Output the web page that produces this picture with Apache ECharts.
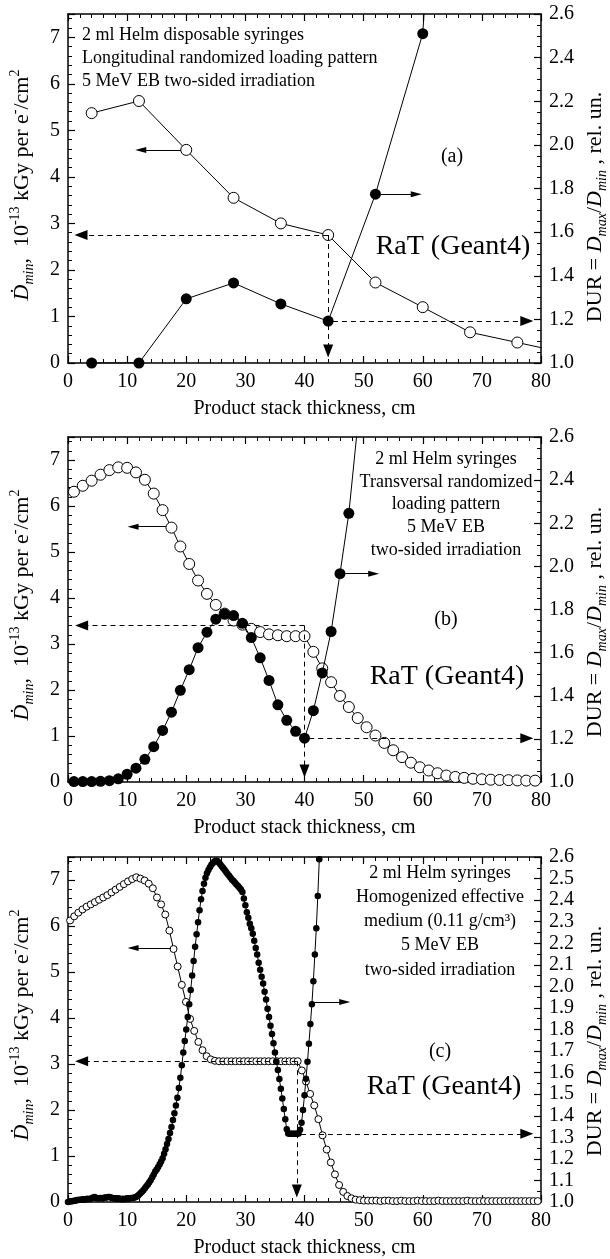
<!DOCTYPE html>
<html><head><meta charset="utf-8">
<script src="https://cdn.jsdelivr.net/npm/echarts@6/dist/echarts.min.js"></script>
<style>html,body{margin:0;padding:0;background:#fff}#c{width:610px;height:1259px}</style>
</head><body><div id="c"></div>
<script>
// ---------- data ----------
// Panel (a): longitudinal randomized loading
const aX     = [4, 12, 20, 28, 36, 44, 52, 60, 68, 76, 84];
const aDmin  = [5.37, 5.63, 4.58, 3.55, 3.00, 2.75, 1.73, 1.20, 0.66, 0.44, 0.22];
const aDurX  = [4, 12, 20, 28, 36, 44, 52, 60, 68];
const aDur   = [1.000, 1.000, 1.294, 1.367, 1.271, 1.192, 1.774, 2.510, 6.000];

// Panel (b): transversal randomized loading
const bX = [1.0, 2.5, 4.0, 5.5, 7.0, 8.5, 10.0, 11.5, 13.0, 14.5, 16.0, 17.5, 19.0, 20.5, 22.0, 23.5, 25.0, 26.5,
  28.0, 29.5, 31.0, 32.5, 34.0, 35.5, 37.0, 38.5, 40.0, 41.5, 43.0, 44.5, 46.0, 47.5, 49.0, 50.5, 52.0, 53.5, 55.0,
  56.5, 58.0, 59.5, 61.0, 62.5, 64.0, 65.5, 67.0, 68.5, 70.0, 71.5, 73.0, 74.5, 76.0, 77.5, 79.0];
const bDmin = [6.31, 6.44, 6.55, 6.68, 6.78, 6.84, 6.83, 6.73, 6.57, 6.27, 5.91, 5.53, 5.12, 4.74, 4.38, 4.09, 3.85, 3.66,
  3.51, 3.42, 3.33, 3.26, 3.21, 3.19, 3.17, 3.17, 3.17, 2.83, 2.47, 2.17, 1.87, 1.63, 1.39, 1.19, 1.01, 0.85, 0.69,
  0.54, 0.42, 0.32, 0.25, 0.19, 0.14, 0.11, 0.09, 0.07, 0.06, 0.05, 0.045, 0.04, 0.035, 0.03, 0.03];
const bDurX = [1.0, 2.5, 4.0, 5.5, 7.0, 8.5, 10.0, 11.5, 13.0, 14.5, 16.0, 17.5, 19.0, 20.5, 22.0, 23.5, 25.0, 26.5,
  28.0, 29.5, 31.0, 32.5, 34.0, 35.5, 37.0, 38.5, 40.0, 41.5, 43.0, 44.5, 46.0, 47.5, 49.0, 50.5];
const bDur = [1.002, 1.002, 1.002, 1.003, 1.006, 1.015, 1.036, 1.064, 1.105, 1.164, 1.239, 1.324, 1.425, 1.521, 1.623,
  1.695, 1.755, 1.779, 1.772, 1.736, 1.670, 1.576, 1.471, 1.358, 1.286, 1.235, 1.203, 1.331, 1.506, 1.698, 1.966,
  2.246, 2.655, 3.050];

// Panel (c): homogenized effective medium
const cX = [0.35, 1.05, 1.75, 2.45, 3.15, 3.85, 4.55, 5.25, 5.95, 6.65, 7.35, 8.05, 8.75, 9.45, 10.15, 10.85, 11.55,
  12.25, 12.95, 13.65, 14.35, 15.05, 15.75, 16.45, 17.15, 17.85, 18.55, 19.25, 19.95, 20.65, 21.35, 22.05, 22.75,
  23.45, 24.15, 24.85, 25.55, 26.25, 26.95, 27.65, 28.35, 29.05, 29.75, 30.45, 31.15, 31.85, 32.55, 33.25, 33.95,
  34.65, 35.35, 36.05, 36.75, 37.45, 38.15, 38.85, 39.55, 40.25, 40.95, 41.65, 42.35, 43.05, 43.75, 44.45, 45.15,
  45.85, 46.55, 47.25, 47.95, 48.65, 49.35, 50.05, 50.75, 51.45, 52.15, 52.85, 53.55, 54.25, 54.95, 55.65, 56.35,
  57.05, 57.75, 58.45, 59.15, 59.85, 60.55, 61.25, 61.95, 62.65, 63.35, 64.05, 64.75, 65.45, 66.15, 66.85, 67.55,
  68.25, 68.95, 69.65, 70.35, 71.05, 71.75, 72.45, 73.15, 73.85, 74.55, 75.25, 75.95, 76.65, 77.35, 78.05, 78.75, 79.45];
const cDmin = [6.12, 6.21, 6.29, 6.36, 6.42, 6.47, 6.52, 6.57, 6.62, 6.67, 6.73, 6.79, 6.85, 6.91, 6.97, 7.02, 7.06,
  7.03, 6.99, 6.92, 6.82, 6.62, 6.47, 6.25, 5.90, 5.50, 5.12, 4.72, 4.35, 3.98, 3.72, 3.48, 3.30, 3.17, 3.10, 3.07,
  3.06, 3.06, 3.06, 3.06, 3.06, 3.06, 3.06, 3.06, 3.06, 3.06, 3.06, 3.06, 3.06, 3.06, 3.06, 3.06, 3.06, 3.06, 3.06, 3.06,
  2.86, 2.62, 2.35, 2.10, 1.80, 1.45, 1.14, 0.86, 0.60, 0.37, 0.22, 0.13, 0.08, 0.05, 0.04, 0.03,
  0.03, 0.03, 0.03, 0.02, 0.03, 0.03, 0.02, 0.02, 0.03, 0.02, 0.02, 0.02, 0.03, 0.02, 0.02, 0.02, 0.02, 0.03, 0.02, 0.02,
  0.02, 0.02, 0.02, 0.02, 0.03, 0.02, 0.02, 0.02, 0.02, 0.02, 0.02, 0.02, 0.02, 0.02, 0.02, 0.02, 0.02, 0.02, 0.02, 0.02,
  0.02, 0.02];
const cDurX = [
  0.00, 0.25, 0.50, 0.75, 1.00, 1.25, 1.50, 1.75, 2.00, 2.25, 2.50, 2.75, 3.00, 3.25, 3.50, 3.75,
  4.00, 4.25, 4.50, 4.75, 5.00, 5.25, 5.50, 5.75, 6.00, 6.25, 6.50, 6.75, 7.00, 7.25, 7.50, 7.75,
  8.00, 8.25, 8.50, 8.75, 9.00, 9.25, 9.50, 9.75, 10.00, 10.25, 10.50, 10.75, 11.00, 11.25, 11.50, 11.75,
  12.00, 12.25, 12.50, 12.75, 13.00, 13.25, 13.50, 13.75, 14.00, 14.25, 14.50, 14.75, 15.00, 15.25, 15.50, 15.75,
  16.00, 16.25, 16.50, 16.75, 17.00, 17.25, 17.50, 17.75, 18.00, 18.25, 18.50, 18.75, 19.00, 19.25, 19.50, 19.75,
  20.00, 20.25, 20.50, 20.75, 21.00, 21.25, 21.50, 21.75, 22.00, 22.25, 22.50, 22.75, 23.00, 23.25, 23.50, 23.75,
  24.00, 24.25, 24.50, 24.75, 25.00, 25.25, 25.50, 25.75, 26.00, 26.25, 26.50, 26.75, 27.00, 27.25, 27.50, 27.75,
  28.00, 28.25, 28.50, 28.75, 29.00, 29.25, 29.50, 29.75, 30.00, 30.25, 30.50, 30.75, 31.00, 31.25, 31.50, 31.75,
  32.00, 32.25, 32.50, 32.75, 33.00, 33.25, 33.50, 33.75, 34.00, 34.25, 34.50, 34.75, 35.00, 35.25, 35.50, 35.75,
  36.00, 36.25, 36.50, 36.75, 37.00, 37.25, 37.50, 37.75, 38.00, 38.25, 38.50, 38.75, 39.00, 39.25, 39.50, 39.75,
  40.00, 40.25, 40.50, 40.75, 41.00, 41.25, 41.50, 41.75, 42.00, 42.25, 42.50, 42.75];
const cDur = [
  1.000, 1.002, 1.004, 1.004, 1.006, 1.006, 1.009, 1.009, 1.011, 1.011, 1.013, 1.011, 1.013, 1.015, 1.013, 1.015,
  1.017, 1.021, 1.023, 1.019, 1.017, 1.017, 1.019, 1.017, 1.019, 1.021, 1.021, 1.023, 1.023, 1.021, 1.019, 1.017,
  1.017, 1.015, 1.017, 1.015, 1.013, 1.015, 1.013, 1.015, 1.017, 1.015, 1.017, 1.019, 1.019, 1.021, 1.023, 1.028,
  1.034, 1.041, 1.047, 1.055, 1.064, 1.073, 1.081, 1.092, 1.102, 1.115, 1.128, 1.141, 1.151, 1.162, 1.175, 1.188,
  1.203, 1.224, 1.245, 1.269, 1.292, 1.320, 1.348, 1.380, 1.412, 1.448, 1.484, 1.529, 1.576, 1.634, 1.693, 1.747,
  1.800, 1.858, 1.917, 1.983, 2.050, 2.118, 2.184, 2.242, 2.297, 2.353, 2.404, 2.442, 2.476, 2.504, 2.525, 2.540,
  2.553, 2.564, 2.572, 2.579, 2.583, 2.581, 2.574, 2.566, 2.557, 2.549, 2.540, 2.530, 2.521, 2.513, 2.504, 2.495,
  2.489, 2.481, 2.472, 2.466, 2.457, 2.449, 2.438, 2.408, 2.376, 2.344, 2.318, 2.291, 2.269, 2.244, 2.212, 2.178,
  2.148, 2.109, 2.077, 2.045, 2.013, 1.975, 1.939, 1.896, 1.858, 1.817, 1.779, 1.736, 1.693, 1.651, 1.612, 1.570,
  1.525, 1.480, 1.431, 1.384, 1.337, 1.318, 1.316, 1.316, 1.316, 1.316, 1.316, 1.316, 1.318, 1.335, 1.367, 1.427,
  1.495, 1.572, 1.651, 1.734, 1.826, 1.917, 2.024, 2.148, 2.269, 2.419, 2.589, 2.771];

// Guide arrows in data coordinates: [from, to, kind]
const aGuideL = [[[44, 2.75], [2.2, 2.75], 'dash'], [[44, 2.75], [44, 0.26], 'dash'], [[19.1, 4.58], [12.3, 4.58], 'solid']];
const aGuideR = [[[44.8, 1.192], [77.6, 1.192], 'dash'], [[52.9, 1.774], [58.9, 1.774], 'solid']];
const bGuideL = [[[40, 3.4], [2.3, 3.4], 'dash'], [[40, 3.4], [40, 0.24], 'dash'], [[16.6, 5.55], [11.0, 5.55], 'solid']];
const bGuideR = [[[40.8, 1.203], [77.6, 1.203], 'dash'], [[46.9, 1.966], [51.7, 1.966], 'solid']];
const cGuideL = [[[38.7, 3.06], [2.3, 3.06], 'dash'], [[38.7, 3.06], [38.7, 0.24], 'dash'], [[17.4, 5.52], [11.0, 5.52], 'solid']];
const cGuideR = [[[39.4, 1.316], [77.6, 1.316], 'dash'], [[41.6, 1.927], [46.8, 1.927], 'solid']];

// Texts
const aNotes = ['2 ml Helm disposable syringes', 'Longitudinal randomized loading pattern', '5 MeV EB two-sided irradiation'];
const bNotes = ['2 ml Helm syringes', 'Transversal randomized', 'loading pattern', '5 MeV EB', 'two-sided irradiation'];
const cNotes = ['2 ml Helm syringes', 'Homogenized effective', 'medium (0.11 g/cm\u00B3)', '5 MeV EB', 'two-sided irradiation'];
const xTitle = 'Product stack thickness, cm';

// ---------- chart ----------
const FONT = 'Liberation Serif';
const BLK = '#000';
const grids = [
  {left: 68, top: 14, width: 473, height: 349},
  {left: 68, top: 437, width: 473, height: 345},
  {left: 68, top: 857, width: 473, height: 345}
];

function xAxesFor(g) {
  const common = {
    type: 'value', gridIndex: g, min: 0, max: 80, interval: 10,
    axisLine: {onZero: false, lineStyle: {color: BLK, width: 1.5}},
    axisTick: {inside: true, length: 7, lineStyle: {color: BLK, width: 1.2}},
    minorTick: {show: true, splitNumber: 5, length: 4, lineStyle: {color: BLK, width: 1}},
    splitLine: {show: false}, minorSplitLine: {show: false}
  };
  return [
    Object.assign({}, common, {
      position: 'bottom',
      axisLabel: {color: BLK, fontFamily: FONT, fontSize: 20, margin: 9},
      name: xTitle, nameLocation: 'middle', nameGap: 36,
      nameTextStyle: {color: BLK, fontFamily: FONT, fontSize: 20}
    }),
    Object.assign({}, common, {position: 'top', axisLabel: {show: false}})
  ];
}
function yAxesFor(g, durInterval, durSplit) {
  return [
    {
      type: 'value', gridIndex: g, position: 'left', min: 0, max: 7.5, interval: 1,
      axisLine: {show: true, onZero: false, lineStyle: {color: BLK, width: 1.5}},
      axisTick: {show: true, inside: true, length: 7, lineStyle: {color: BLK, width: 1.2}},
      minorTick: {show: true, splitNumber: 5, length: 4, lineStyle: {color: BLK, width: 1}},
      axisLabel: {color: BLK, fontFamily: FONT, fontSize: 20, margin: 8, showMaxLabel: false,
        formatter: v => (Math.abs(v - Math.round(v)) < 1e-6 ? String(Math.round(v)) : '')},
      splitLine: {show: false}
    },
    {
      type: 'value', gridIndex: g, position: 'right', min: 1.0, max: 2.6, interval: durInterval,
      axisLine: {show: true, onZero: false, lineStyle: {color: BLK, width: 1.5}},
      axisTick: {show: true, inside: true, length: 7, lineStyle: {color: BLK, width: 1.2}},
      minorTick: {show: true, splitNumber: durSplit, length: 4, lineStyle: {color: BLK, width: 1}},
      axisLabel: {color: BLK, fontFamily: FONT, fontSize: 20, margin: 8, formatter: v => v.toFixed(1)},
      splitLine: {show: false}
    }
  ];
}
function guides(list) {
  return {
    silent: true, animation: false, label: {show: false}, emphasis: {disabled: true},
    symbol: ['none', 'triangle'],
    data: list.map(([p, q, kind]) => [
      {coord: p, symbol: 'none'},
      {coord: q, symbol: 'triangle', symbolSize: kind === 'dash' ? [10, 13] : [6, 11],
        lineStyle: {color: BLK, width: 1, type: kind === 'dash' ? [5, 4] : 'solid'},
        itemStyle: {color: BLK}}
    ])
  };
}
function pairs(xs, ys) { return xs.map((x, i) => [x, ys[i]]); }
function openSeries(g, xs, ys, size, gl) {
  return {
    type: 'line', xAxisIndex: 2 * g, yAxisIndex: 2 * g, data: pairs(xs, ys),
    symbol: 'circle', symbolSize: size, showAllSymbol: true, clip: true,
    lineStyle: {color: BLK, width: 1},
    itemStyle: {color: '#fff', borderColor: BLK, borderWidth: 1},
    emphasis: {disabled: true}, markLine: guides(gl), z: 2
  };
}
function durSeries(g, xs, ys, size, gl) {
  return {
    type: 'line', xAxisIndex: 2 * g, yAxisIndex: 2 * g + 1, data: pairs(xs, ys),
    symbol: 'circle', symbolSize: size, showAllSymbol: true, clip: true,
    lineStyle: {color: BLK, width: 1},
    itemStyle: {color: BLK, borderColor: BLK, borderWidth: 0},
    emphasis: {disabled: true}, markLine: guides(gl), z: 3
  };
}

const rich = {
  n: {fontSize: 22, fontFamily: FONT, fill: BLK, lineHeight: 28},
  it: {fontSize: 22, fontFamily: FONT, fontStyle: 'italic', fill: BLK, lineHeight: 28},
  sub: {fontSize: 14, fontFamily: FONT, fontStyle: 'italic', fill: BLK, lineHeight: 14, verticalAlign: 'bottom'},
  sup: {fontSize: 14, fontFamily: FONT, fill: BLK, lineHeight: 14, verticalAlign: 'top'}
};
const leftTitle = '{it|\u1E0A}{sub|min}{n|,  10}{sup|-13}{n| kGy per e}{sup|-}{n|/cm}{sup|2}';
const rightTitle = '{n|DUR = }{it|D}{sub|max}{n|/}{it|D}{sub|min}{n| , rel. un.}';

function text(x, y, s, size, align) {
  return {type: 'text', x: x, y: y, z: 100, silent: true,
    style: {text: s, fontSize: size, fontFamily: FONT, fill: BLK, align: align, verticalAlign: 'middle',
      textAlign: align, textVerticalAlign: 'middle'}};
}
function vtitle(x, y, s) {
  return {type: 'text', x: x, y: y, rotation: Math.PI / 2, z: 100, silent: true,
    style: {text: s, rich: rich, fontSize: 22, fontFamily: FONT, fill: BLK, align: 'center', verticalAlign: 'middle',
      textAlign: 'center', textVerticalAlign: 'middle'}};
}

const graphic = [];
aNotes.forEach((s, i) => graphic.push(text(82, 35 + i * 23.3, s, 18, 'left')));
bNotes.forEach((s, i) => graphic.push(text(446, 459 + i * 22.8, s, 18, 'center')));
cNotes.forEach((s, i) => graphic.push(text(440, 873 + i * 24.2, s, 18, 'center')));
graphic.push(text(452, 157, '(a)', 20, 'center'));
graphic.push(text(446, 620, '(b)', 20, 'center'));
graphic.push(text(440, 1052, '(c)', 20, 'center'));
graphic.push(text(453, 247, 'RaT (Geant4)', 28, 'center'));
graphic.push(text(447, 677, 'RaT (Geant4)', 28, 'center'));
graphic.push(text(444, 1087, 'RaT (Geant4)', 28, 'center'));
[[185, 207], [605, 622], [1025, 1041]].forEach(([yl, yr]) => {
  graphic.push(vtitle(22, yl, leftTitle));
  graphic.push(vtitle(595, yr, rightTitle));
});

const option = {
  animation: false,
  backgroundColor: '#fff',
  textStyle: {fontFamily: FONT, color: BLK},
  grid: grids,
  xAxis: [].concat(xAxesFor(0), xAxesFor(1), xAxesFor(2)),
  yAxis: [].concat(yAxesFor(0, 0.2, 4), yAxesFor(1, 0.2, 4), yAxesFor(2, 0.1, 2)),
  series: [
    openSeries(0, aX, aDmin, 11, aGuideL),
    durSeries(0, aDurX, aDur, 11, aGuideR),
    openSeries(1, bX, bDmin, 11, bGuideL),
    durSeries(1, bDurX, bDur, 11, bGuideR),
    openSeries(2, cX, cDmin, 7, cGuideL),
    durSeries(2, cDurX, cDur, 6.5, cGuideR)
  ],
  graphic: graphic
};
const chart = echarts.init(document.getElementById('c'), null, {renderer: 'canvas'});
chart.setOption(option);
</script></body></html>
